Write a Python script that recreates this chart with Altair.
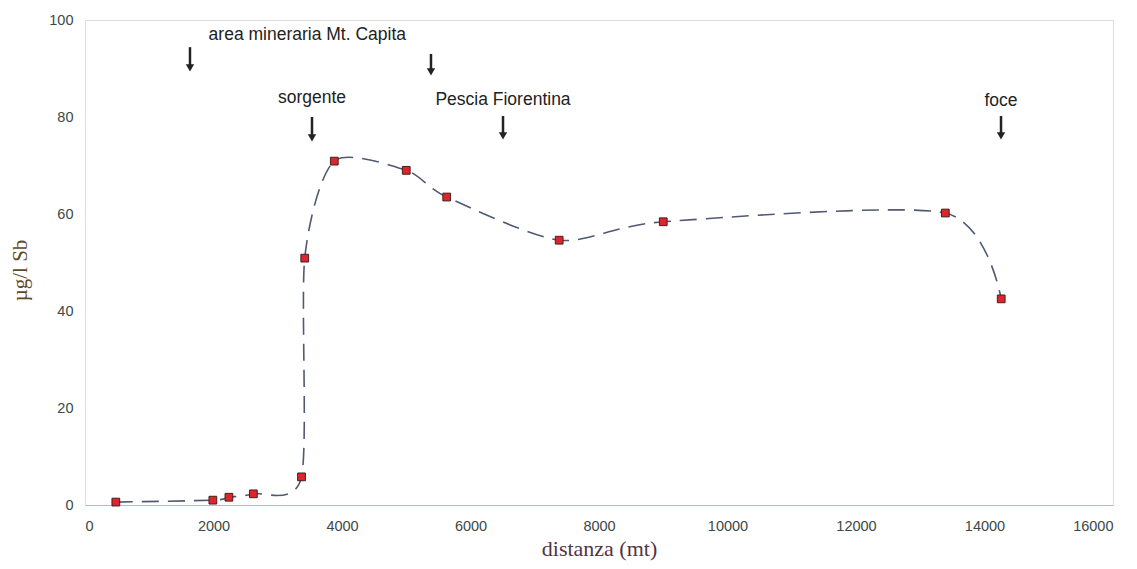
import altair as alt
import pandas as pd

# measured points
dist = [480, 1990, 2240, 2620, 3370, 3420, 3880, 5000, 5630, 7380, 9000, 13390, 14260]
sb = [0.6, 1.0, 1.6, 2.3, 5.8, 50.9, 70.9, 69.0, 63.5, 54.6, 58.4, 60.2, 42.5]

# annotations
ann_text = ["area mineraria Mt. Capita", "sorgente", "Pescia Fiorentina", "foce"]
ann_x = [3460, 3533, 6506, 14257]
ann_y = [96.9, 83.9, 83.5, 83.3]

arrow_x = [1634, 5385, 3533, 6506, 14257]
arrow_top = [94.4, 93.0, 80.0, 80.2, 80.2]
arrow_tip = [89.5, 88.7, 75.1, 75.5, 75.5]

df = pd.DataFrame({"d": dist, "v": sb})
adf = pd.DataFrame({"t": ann_text, "x": ann_x, "y": ann_y})
arr = pd.DataFrame({"x": arrow_x, "y1": arrow_top, "y2": [t + 1.2 for t in arrow_tip], "tip": arrow_tip})

xs = alt.Scale(domain=[0, 16000], nice=False)
ys = alt.Scale(domain=[0, 100], nice=False)

xaxis = alt.Axis(values=list(range(0, 16001, 2000)), format="d", title="distanza (mt)", ticks=False,
                 grid=False, domain=True, domainColor="#9cc8c0", labelFont="Liberation Sans",
                 labelFontSize=14.5, labelColor="#3d4848", labelPadding=14,
                 titleFont="Liberation Serif", titleFontSize=22, titleFontWeight="normal",
                 titleColor="#553344", titlePadding=6)
yaxis = alt.Axis(values=list(range(0, 101, 20)), format="d", title="µg/l Sb", ticks=False, grid=False,
                 domain=False, labelFont="Liberation Sans", labelFontSize=14.5,
                 labelColor="#3d4848", labelPadding=12,
                 titleFont="Liberation Serif", titleFontSize=21, titleFontWeight="normal",
                 titleColor="#5c4a2a", titlePadding=18, titleY=250)

line = alt.Chart(df).mark_line(interpolate="cardinal", tension=0.25, strokeDash=[17, 9], strokeWidth=1.6,
                               color="#4f5a72").encode(
    x=alt.X("d:Q", scale=xs, axis=xaxis),
    y=alt.Y("v:Q", scale=ys, axis=yaxis),
)
pts = alt.Chart(df).mark_square(size=60, color="#e0242c", stroke="#402020", strokeWidth=1,
                                opacity=1).encode(
    x=alt.X("d:Q", scale=xs), y=alt.Y("v:Q", scale=ys))

txt = alt.Chart(adf).mark_text(font="Liberation Sans", fontSize=17.5, color="#222222").encode(
    x=alt.X("x:Q", scale=xs), y=alt.Y("y:Q", scale=ys), text="t:N")

shaft = alt.Chart(arr).mark_rule(strokeWidth=2.5, color="#222222").encode(
    x=alt.X("x:Q", scale=xs), y=alt.Y("y1:Q", scale=ys), y2="y2:Q")
head = alt.Chart(arr).mark_point(shape="triangle-down", size=70, filled=True, color="#222222",
                                 opacity=1, yOffset=-3).encode(
    x=alt.X("x:Q", scale=xs), y=alt.Y("tip:Q", scale=ys))

chart = alt.layer(line, pts, shaft, head, txt).properties(
    width=1028, height=485,
    autosize=alt.AutoSizeParams(type="none"),
    padding={"left": 77, "top": 12, "right": 16, "bottom": 56},
).configure_view(stroke="#9a9a9a", strokeWidth=1, strokeDash=[2, 1]).configure(background="white")

chart.save("out.html", embed_options={"renderer": "svg", "actions": False})
